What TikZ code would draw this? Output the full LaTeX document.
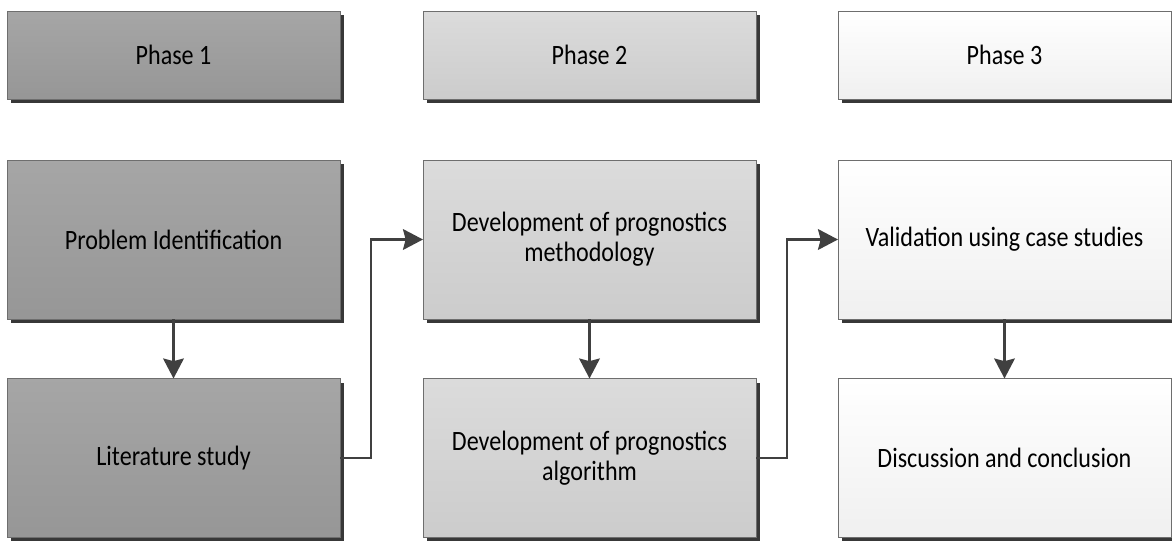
\documentclass[tikz,border=0pt]{standalone}
\usepackage{fontspec}
\setmainfont{Carlito}[FakeStretch=0.86]
\definecolor{ink}{HTML}{404040}
\definecolor{edge}{HTML}{6E6E6E}
\usepackage{tikz}
\usetikzlibrary{positioning, arrows.meta, shadows}

\begin{document}
\begin{tikzpicture}[
  x=0.75pt, y=-0.75pt,
  box/.style={draw=edge, line width=0.6pt, minimum width=249.75pt,
              minimum height=119.25pt, inner sep=0pt, outer sep=0pt,
              align=center, font=\fontsize{21}{22.5}\selectfont,
              drop shadow={shadow xshift=3pt, shadow yshift=-3pt,
                           fill=black!78, opacity=1}},
  head/.style={box, minimum height=66pt},
  one/.style={top color=black!35, bottom color=black!41},
  two/.style={top color=black!14, bottom color=black!20},
  three/.style={top color=white, bottom color=black!6},
  flow/.style={-{Stealth[length=15pt, width=15.5pt, inset=2pt]},
               line width=2pt, ink},
]
\useasboundingbox (0,0) rectangle (1172,540);

% phase headers
\node[head, one] (ph1) at (173.5,55) {Phase 1};
\node[head, two] (ph2) at (589.5,55) {Phase 2};
\node[head, three] (ph3) at (1004.5,55) {Phase 3};

% steps
\node[box, one] (prob) at (173.5,239.5) {Problem Identification};
\node[box, one] (lit) at (173.5,458) {Literature study};
\node[box, two] (meth) at (589.5,239.5) {Development of prognostics\\methodology};
\node[box, two] (alg) at (589.5,458) {Development of prognostics\\algorithm};
\node[box, three] (val) at (1004.5,239.5) {Validation using case studies};
\node[box, three] (disc) at (1004.5,458) {Discussion and conclusion};

\draw[flow] (prob) -- (lit);
\draw[flow] (meth) -- (alg);
\draw[flow] (val) -- (disc);
\draw[flow] (lit.east) -- ++(23.25pt,0) |- (meth.west);
\draw[flow] (alg.east) -- ++(23.25pt,0) |- (val.west);
\end{tikzpicture}
\end{document}
